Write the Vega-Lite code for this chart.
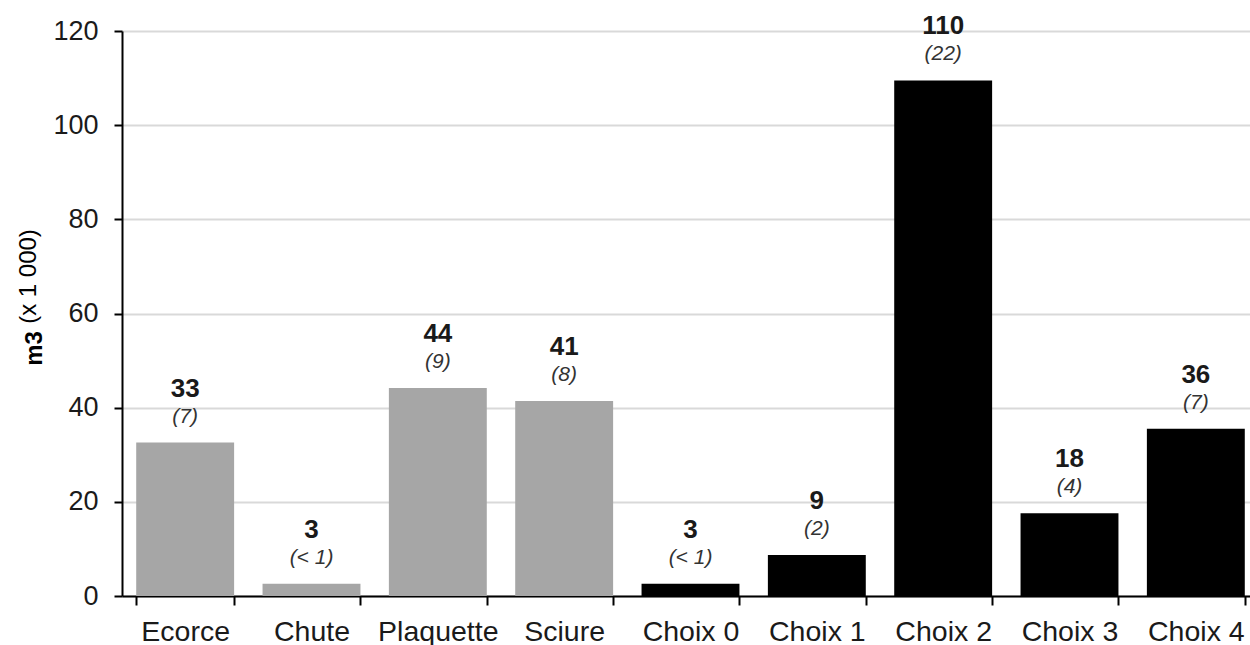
{
  "$schema": "https://vega.github.io/schema/vega-lite/v6.json",
  "autosize": {"type": "none"},
  "width": 1137,
  "height": 565,
  "padding": {"left": 122, "top": 31, "right": 0, "bottom": 49},
  "background": "white",
  "title": {
    "text": "m3", "orient": "left", "anchor": "middle", "fontSize": 24, "fontWeight": "bold",
    "font": "Liberation Sans", "color": "#000", "offset": -30, "dx": -35
  },
  "config": {
    "view": {"stroke": null},
    "font": "Liberation Sans",
    "axis": {"labelFont": "Liberation Sans", "titleFont": "Liberation Sans"}
  },
  "data": {
    "values": [
      {"cat": "Ecorce", "value": 32.6, "num": "33", "sub": "(7)", "grp": "a"},
      {"cat": "Chute", "value": 2.6, "num": "3", "sub": "(< 1)", "grp": "a"},
      {"cat": "Plaquette", "value": 44.2, "num": "44", "sub": "(9)", "grp": "a"},
      {"cat": "Sciure", "value": 41.4, "num": "41", "sub": "(8)", "grp": "a"},
      {"cat": "Choix 0", "value": 2.6, "num": "3", "sub": "(< 1)", "grp": "b"},
      {"cat": "Choix 1", "value": 8.7, "num": "9", "sub": "(2)", "grp": "b"},
      {"cat": "Choix 2", "value": 109.5, "num": "110", "sub": "(22)", "grp": "b"},
      {"cat": "Choix 3", "value": 17.6, "num": "18", "sub": "(4)", "grp": "b"},
      {"cat": "Choix 4", "value": 35.5, "num": "36", "sub": "(7)", "grp": "b"}
    ]
  },
  "encoding": {
    "x": {
      "field": "cat", "type": "nominal", "sort": null,
      "scale": {"paddingInner": 0.225, "paddingOuter": 0.1125},
      "axis": {
        "title": null, "labelAngle": 0, "labelFontSize": 28.5, "labelColor": "#1a1a1a",
        "labelPadding": 12, "tickBand": "extent", "tickSize": 9, "tickWidth": 2,
        "tickColor": "#000", "domainColor": "#000", "domainWidth": 2, "grid": false
      }
    },
    "y": {
      "field": "value", "type": "quantitative",
      "scale": {"domain": [0, 120], "nice": false},
      "axis": {
        "title": "(x 1 000)", "titleFontSize": 24, "titleFontWeight": "normal",
        "titleColor": "#000", "titlePadding": 12, "titleY": 245,
        "values": [0, 20, 40, 60, 80, 100, 120],
        "labelFontSize": 27, "labelColor": "#1a1a1a", "labelPadding": 16,
        "tickSize": 8, "tickWidth": 2, "tickColor": "#000",
        "domainColor": "#000", "domainWidth": 2,
        "grid": true, "gridColor": "#d9d9d9", "gridWidth": 2
      }
    }
  },
  "layer": [
    {
      "mark": {"type": "bar"},
      "encoding": {
        "color": {
          "field": "grp", "type": "nominal", "legend": null,
          "scale": {"domain": ["a", "b"], "range": ["#a6a6a6", "#000000"]}
        }
      }
    },
    {
      "mark": {"type": "text", "baseline": "alphabetic", "dy": -46, "fontSize": 26, "fontWeight": "bold", "color": "#1a1a1a"},
      "encoding": {"text": {"field": "num"}}
    },
    {
      "mark": {"type": "text", "baseline": "alphabetic", "dy": -20, "fontSize": 21, "fontStyle": "italic", "color": "#333333"},
      "encoding": {"text": {"field": "sub"}}
    }
  ]
}
